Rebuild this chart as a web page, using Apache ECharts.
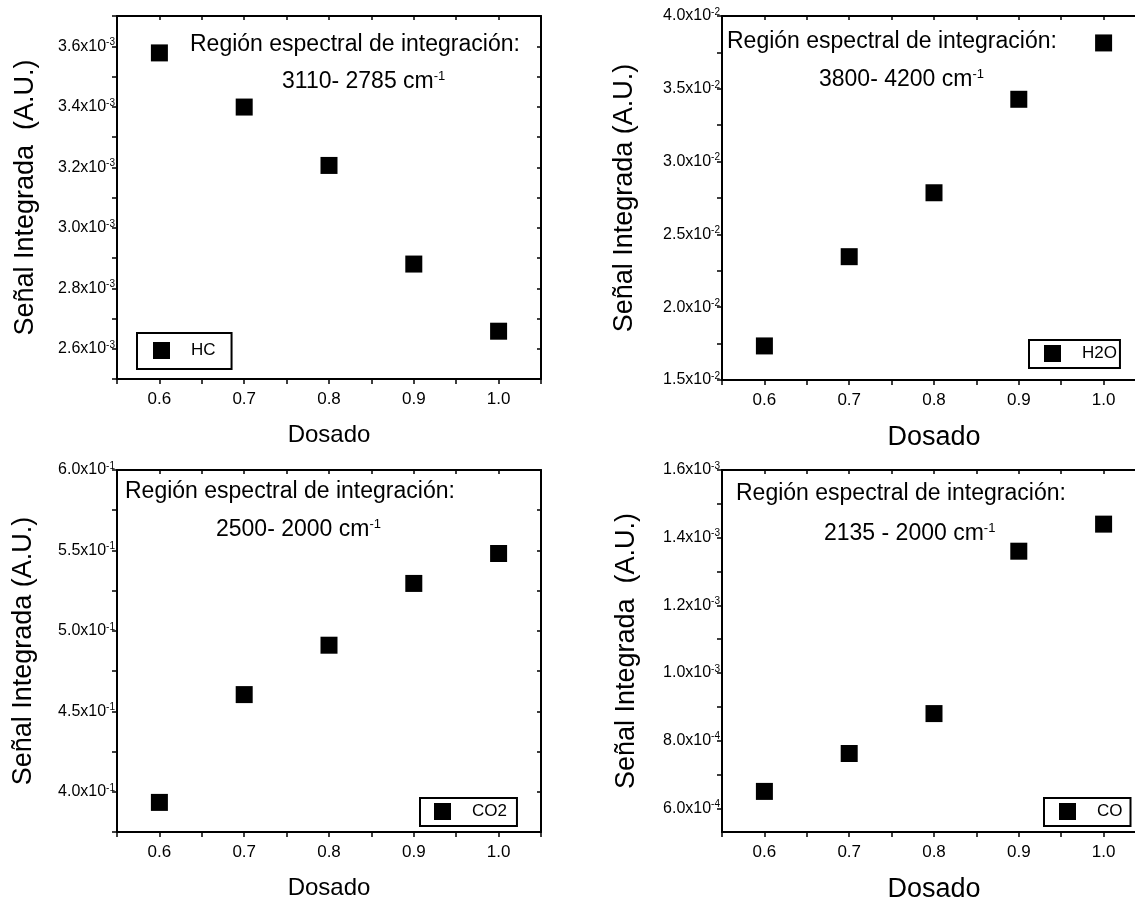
<!DOCTYPE html>
<html>
<head>
<meta charset="utf-8">
<script src="https://cdn.jsdelivr.net/npm/echarts@6/dist/echarts.min.js"></script>
<style>
  html, body { margin: 0; padding: 0; background: #fff; }
  #chart { width: 1135px; height: 899px; }
</style>
</head>
<body>
<div id="chart"></div>
<script>
// datos
const dosado = [0.6, 0.7, 0.8, 0.9, 1.0];
const hcValues = [3.578e-3, 3.399e-3, 3.206e-3, 2.880e-3, 2.658e-3];
const h2oValues = [1.734e-2, 2.347e-2, 2.786e-2, 3.428e-2, 3.815e-2];
const co2Values = [3.934e-1, 4.604e-1, 4.911e-1, 5.295e-1, 5.481e-1];
const coValues = [6.50e-4, 7.62e-4, 8.80e-4, 1.36e-3, 1.44e-3];

// etiquetas de los ejes
const xTicks = [0.6, 0.7, 0.8, 0.9, 1.0];
const hcTicks = [2.6e-3, 2.8e-3, 3.0e-3, 3.2e-3, 3.4e-3, 3.6e-3];
const h2oTicks = [1.5e-2, 2.0e-2, 2.5e-2, 3.0e-2, 3.5e-2, 4.0e-2];
const co2Ticks = [4.0e-1, 4.5e-1, 5.0e-1, 5.5e-1, 6.0e-1];
const coTicks = [6.0e-4, 8.0e-4, 1.0e-3, 1.2e-3, 1.4e-3, 1.6e-3];

const FONT = '"Liberation Sans", Arial, Helvetica, sans-serif';
const BLACK = "#000";

const panels = [
  { name: "HC", values: hcValues, labels: hcTicks, yMin: 2.5e-3, yMax: 3.7e-3, yStep: 1e-4,
    left: 117, top: 16, height: 363, yTitle: "Señal Integrada  (A.U.)", yGap: 78, xSize: 24, xGap: 44,
    range: "3110- 2785 cm", t1: [190, 45], t2: [282, 82],
    legend: { left: 137, top: 333, padding: [9, 16, 10, 16] } },
  { name: "H2O", values: h2oValues, labels: h2oTicks, yMin: 1.5e-2, yMax: 4.0e-2, yStep: 2.5e-3,
    left: 722, top: 16, height: 364, yTitle: "Señal Integrada (A.U.)", yGap: 84, xSize: 27, xGap: 44,
    range: "3800- 4200 cm", t1: [727, 42], t2: [819, 80],
    legend: { left: 1029, top: 340, padding: [5, 3, 6, 15] } },
  { name: "CO2", values: co2Values, labels: co2Ticks, yMin: 3.75e-1, yMax: 6.0e-1, yStep: 2.5e-2,
    left: 117, top: 470, height: 362, yTitle: "Señal Integrada (A.U.)", yGap: 80, xSize: 24, xGap: 44,
    range: "2500- 2000 cm", t1: [125, 492], t2: [216, 530],
    legend: { left: 420, top: 798, padding: [5, 10, 6, 14] } },
  { name: "CO", values: coValues, labels: coTicks, yMin: 5.3e-4, yMax: 1.6e-3, yStep: 1e-4,
    left: 722, top: 470, height: 362, yTitle: "Señal Integrada  (A.U.)", yGap: 82, xSize: 27, xGap: 44,
    range: "2135 - 2000 cm", t1: [736, 494], t2: [824, 534],
    legend: { left: 1044, top: 798, padding: [5, 8, 6, 15] } }
];

function tickList(min, max, step) {
  const out = [];
  for (let k = Math.ceil(min / step - 1e-6); k * step <= max * (1 + 1e-9); k++) {
    out.push(Number((k * step).toPrecision(8)));
  }
  return out;
}

function sciLabel(v) {
  const e = Math.floor(Math.log10(v) + 1e-9);
  const m = (v / Math.pow(10, e)).toFixed(1);
  return "{m|" + m + "x10}{e|" + e + "}";
}

const lineStyle = { color: BLACK, width: 2 };
const tickStyle = { color: BLACK, width: 1.5 };
const xTickValues = tickList(0.55, 1.05, 0.05);

const option = {
  backgroundColor: "#fff",
  animation: false,
  grid: [], xAxis: [], yAxis: [], series: [], legend: [], graphic: []
};

panels.forEach((p, i) => {
  const yTickValues = tickList(p.yMin, p.yMax, p.yStep);
  option.grid.push({ left: p.left, top: p.top, width: 424, height: p.height, outerBoundsMode: "none" });

  option.xAxis.push({
    type: "value", gridIndex: i, min: 0.55, max: 1.05, position: "bottom",
    name: "Dosado", nameLocation: "middle", nameGap: p.xGap,
    nameTextStyle: { fontSize: p.xSize, fontFamily: FONT, color: BLACK },
    axisLine: { onZero: false, lineStyle: lineStyle },
    axisTick: { customValues: xTickValues, length: 5, lineStyle: tickStyle },
    axisLabel: { customValues: xTicks, formatter: (v) => v.toFixed(1), fontSize: 17, fontFamily: FONT, color: BLACK, margin: 12 },
    splitLine: { show: false }
  });
  option.xAxis.push({
    type: "value", gridIndex: i, min: 0.55, max: 1.05, position: "top",
    axisLine: { onZero: false, lineStyle: lineStyle },
    axisTick: { customValues: xTickValues, inside: true, length: 4, lineStyle: tickStyle },
    axisLabel: { show: false },
    splitLine: { show: false }
  });

  option.yAxis.push({
    type: "value", gridIndex: i, min: p.yMin, max: p.yMax, position: "left",
    name: p.yTitle, nameLocation: "middle", nameGap: p.yGap,
    nameTextStyle: { fontSize: 27, fontFamily: FONT, color: BLACK },
    axisLine: { onZero: false, lineStyle: lineStyle },
    axisTick: { customValues: yTickValues, length: 5, lineStyle: tickStyle },
    axisLabel: {
      customValues: p.labels, formatter: sciLabel, margin: 2,
      rich: {
        m: { fontSize: 16, fontFamily: FONT, color: BLACK, lineHeight: 18 },
        e: { fontSize: 10, fontFamily: FONT, color: BLACK, lineHeight: 10, verticalAlign: "top" }
      }
    },
    splitLine: { show: false }
  });
  option.yAxis.push({
    type: "value", gridIndex: i, min: p.yMin, max: p.yMax, position: "right",
    axisLine: { onZero: false, lineStyle: lineStyle },
    axisTick: { customValues: yTickValues, inside: true, length: 4, lineStyle: tickStyle },
    axisLabel: { show: false },
    splitLine: { show: false }
  });

  option.series.push({
    type: "scatter", name: p.name, xAxisIndex: 2 * i, yAxisIndex: 2 * i,
    symbol: "rect", symbolSize: 17,
    itemStyle: { color: BLACK, opacity: 1 },
    data: dosado.map((x, k) => [x, p.values[k]])
  });

  option.legend.push({
    data: [p.name], left: p.legend.left, top: p.legend.top, padding: p.legend.padding,
    orient: "horizontal", icon: "rect", itemWidth: 17, itemHeight: 17,
    itemStyle: { color: BLACK, opacity: 1 },
    borderColor: BLACK, borderWidth: 2, borderRadius: 0, backgroundColor: "#fff",
    formatter: (n) => "{n|" + n + "}",
    textStyle: { rich: { n: { fontSize: 17, fontFamily: FONT, color: BLACK, padding: [0, 0, 0, 16], lineHeight: 17 } } },
    selectedMode: false
  });

  option.graphic.push({
    type: "text", x: p.t1[0], y: p.t1[1],
    style: { text: "Región espectral de integración:", font: "23px " + FONT, fill: BLACK, verticalAlign: "middle" }
  });
  option.graphic.push({
    type: "text", x: p.t2[0], y: p.t2[1],
    style: {
      text: "{a|" + p.range + "}{s|-1}", verticalAlign: "middle",
      rich: {
        a: { fontSize: 23, fontFamily: FONT, fill: BLACK, lineHeight: 24 },
        s: { fontSize: 13, fontFamily: FONT, fill: BLACK, lineHeight: 12, verticalAlign: "top" }
      }
    }
  });
});

const chart = echarts.init(document.getElementById("chart"));
chart.setOption(option);
</script>
</body>
</html>
